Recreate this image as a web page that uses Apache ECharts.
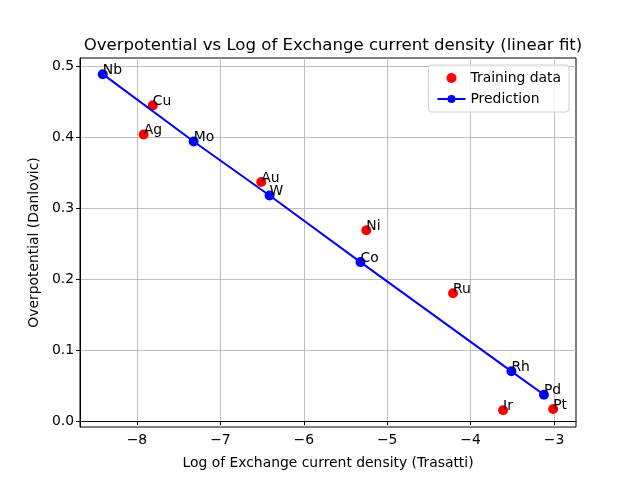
<!DOCTYPE html>
<html lang="en">
<head>
    <meta charset="UTF-8">
    <title>Overpotential vs Log of Exchange current density</title>
    <script type="text/javascript" src="https://cdn.jsdelivr.net/npm/echarts@6/dist/echarts.min.js"></script>
    <style>
        body { margin: 0; background: #fff; }
        #chart { width: 640px; height: 480px; }
    </style>
</head>
<body>
<div id="chart"></div>
<script type="text/javascript">
    // training data (red dots)
    var trainNames = ['Cu', 'Ag', 'Au', 'Ni', 'Ru', 'Ir', 'Pt'];
    var trainX = [-7.81, -7.92, -6.51, -5.25, -4.21, -3.61, -3.01];
    var trainY = [0.445, 0.404, 0.337, 0.269, 0.180, 0.015, 0.017];
    // predictions (blue line)
    var predNames = ['Nb', 'Mo', 'W', 'Co', 'Rh', 'Pd'];
    var predX = [-8.41, -7.32, -6.41, -5.32, -3.51, -3.12];
    var predY = [0.489, 0.394, 0.318, 0.224, 0.070, 0.037];
    // tick labels
    var xTicks = [-8, -7, -6, -5, -4, -3];
    var yTicks = [0.0, 0.1, 0.2, 0.3, 0.4, 0.5];

    var font = 'DejaVu Sans';
    var chart = echarts.init(document.getElementById('chart'));

    function pts(names, xs, ys) {
        var out = [];
        for (var i = 0; i < xs.length; i++) {
            out.push({name: names[i], value: [xs[i], ys[i]]});
        }
        return out;
    }

    var pointLabel = {
        show: true,
        formatter: '{b}',
        position: [5, 8],
        align: 'left',
        verticalAlign: 'bottom',
        color: '#000',
        fontFamily: font,
        fontSize: 13.9
    };

    var option = {
        animation: false,
        title: {
            text: 'Overpotential vs Log of Exchange current density (linear fit)',
            left: 328, top: 32, textAlign: 'center',
            textStyle: {fontFamily: font, fontSize: 16.6, fontWeight: 'normal', color: '#000'}
        },
        grid: {
            left: 80, right: 64, top: 58, bottom: 53,
            show: true, borderColor: '#000', borderWidth: 1
        },
        legend: {
            orient: 'vertical',
            right: 71, top: 65,
            padding: [6, 8, 6, 8],
            itemGap: 7,
            itemWidth: 28, itemHeight: 10,
            borderColor: '#d0d0d0', borderWidth: 1, borderRadius: 3,
            backgroundColor: 'rgba(255,255,255,0.8)',
            textStyle: {fontFamily: font, fontSize: 13.9, color: '#000'},
            data: [{name: 'Training data', icon: 'circle'}, {name: 'Prediction'}]
        },
        xAxis: {
            type: 'value',
            min: -8.683, max: -2.736,
            name: 'Log of Exchange current density (Trasatti)',
            nameLocation: 'middle', nameGap: 29,
            nameTextStyle: {fontFamily: font, fontSize: 13.9, color: '#000'},
            axisLine: {show: true, lineStyle: {color: '#000', width: 1}},
            axisTick: {show: true, length: 4, customValues: xTicks, lineStyle: {color: '#000'}},
            axisLabel: {
                customValues: xTicks, margin: 6,
                fontFamily: font, fontSize: 13.9, color: '#000',
                formatter: function (v) { return String(v).replace('-', '\u2212'); }
            },
            splitLine: {show: true, lineStyle: {color: '#b0b0b0', width: 0.8}}
        },
        yAxis: {
            type: 'value',
            min: -0.0085, max: 0.5118,
            name: 'Overpotential (Danlovic)',
            nameLocation: 'middle', nameGap: 38,
            nameTextStyle: {fontFamily: font, fontSize: 13.9, color: '#000'},
            axisLine: {show: true, lineStyle: {color: '#000', width: 1}},
            axisTick: {show: true, length: 4, customValues: yTicks, lineStyle: {color: '#000'}},
            axisLabel: {
                customValues: yTicks, margin: 6,
                fontFamily: font, fontSize: 13.9, color: '#000',
                formatter: function (v) { return v.toFixed(1); }
            },
            splitLine: {show: true, lineStyle: {color: '#b0b0b0', width: 0.8}}
        },
        series: [
            {
                name: 'Training data',
                type: 'scatter',
                symbolSize: 10,
                itemStyle: {color: '#ff0000', opacity: 1},
                label: pointLabel,
                data: pts(trainNames, trainX, trainY)
            },
            {
                name: 'Prediction',
                type: 'line',
                symbol: 'circle',
                symbolSize: 10,
                showAllSymbol: true,
                itemStyle: {color: '#0000ff'},
                lineStyle: {color: '#0000ff', width: 2},
                label: pointLabel,
                data: pts(predNames, predX, predY)
            }
        ]
    };
    chart.setOption(option);
</script>
</body>
</html>
